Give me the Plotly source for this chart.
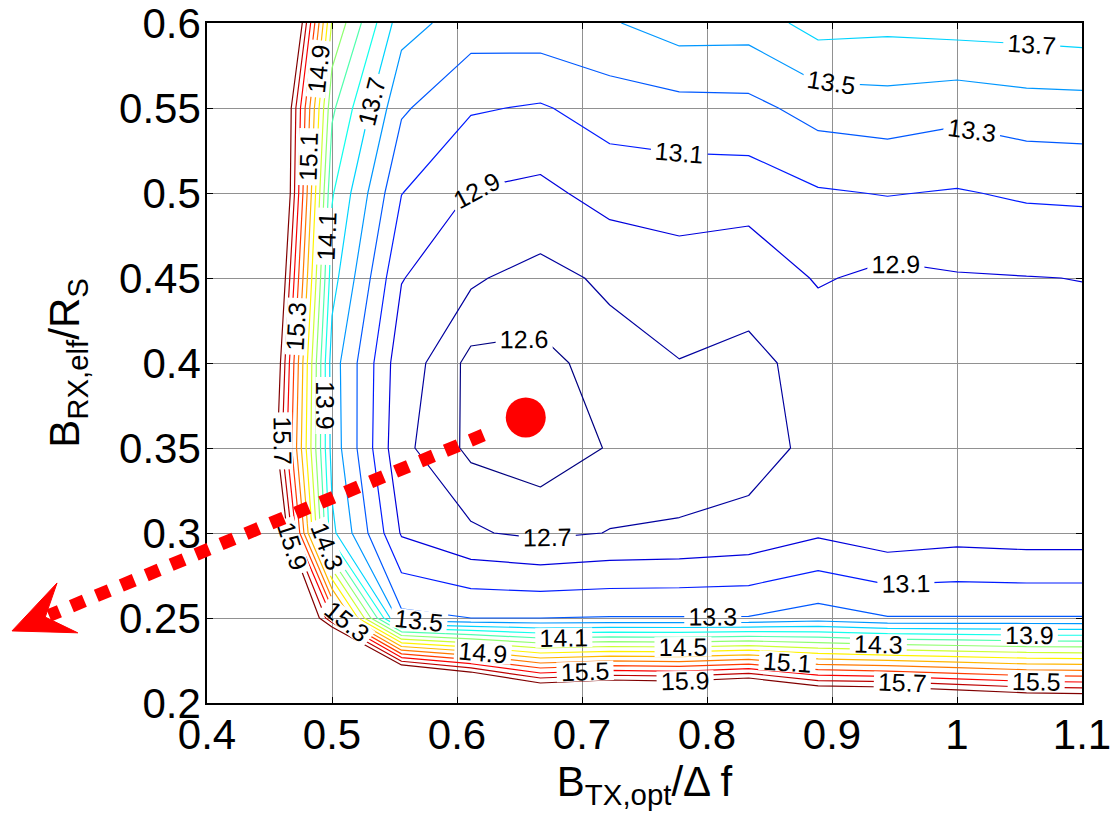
import plotly.graph_objects as go
import numpy as np

# ---------------- data ----------------
# grid columns: B_TX,opt / delta f
X_VALS = [0.4444, 0.5, 0.5556, 0.6111, 0.6667, 0.7222, 0.7778,
          0.8333, 0.8889, 0.9444, 1.0, 1.0556, 1.1111]
# grid rows: B_RX,elf / R_S
Y_VALS = [0.20, 0.25, 0.30, 0.35, 0.40, 0.45, 0.50, 0.55, 0.60]

Z_020 = [21.0, 19.3, 17.97, 17.39, 16.70, 16.86, 16.80, 16.98, 16.53, 16.50, 16.37, 16.25, 16.21]
Z_025 = [17.7, 15.5, 13.35, 13.30, 13.30, 13.31, 13.31, 13.31, 13.39, 13.31, 13.31, 13.31, 13.31]
Z_030 = [17.09, 13.75, 12.88, 12.72, 12.66, 12.705, 12.72, 12.76, 12.87, 12.78, 12.82, 12.80, 12.80]
Z_035 = [16.52, 13.62, 12.73, 12.575, 12.549, 12.606, 12.61, 12.624, 12.75, 12.78, 12.80, 12.80, 12.80]
Z_040 = [16.70, 13.60, 12.77, 12.57, 12.581, 12.627, 12.694, 12.665, 12.75, 12.80, 12.82, 12.83, 12.84]
Z_045 = [16.94, 13.78, 12.91, 12.72, 12.64, 12.734, 12.817, 12.758, 12.92, 12.85, 12.886, 12.895, 12.905]
Z_050 = [17.22, 13.92, 13.105, 12.89, 12.85, 12.976, 12.985, 12.99, 13.08, 13.11, 13.085, 13.128, 13.14]
Z_055 = [17.14, 14.14, 13.33, 13.12, 13.08, 13.19, 13.23, 13.24, 13.38, 13.41, 13.36, 13.41, 13.42]
Z_060 = [17.80, 14.48, 13.58, 13.40, 13.42, 13.48, 13.60, 13.59, 13.78, 13.755, 13.785, 13.795, 13.82]

LEVEL_LOW = 12.6                 # single innermost level
LEVEL_START, LEVEL_END, LEVEL_STEP = 12.7, 15.9, 0.2

OPT_X = [0.655]                  # optimum operating point
OPT_Y = [0.368]
ARROW_TIP = (0.244, 0.2424)      # where the dotted arrow points (data units)

X_TICKS = [0.4, 0.5, 0.6, 0.7, 0.8, 0.9, 1.0, 1.1]
Y_TICKS = [0.2, 0.25, 0.3, 0.35, 0.4, 0.45, 0.5, 0.55, 0.6]
Y_TICKTEXT = ["0.2", "0.25", "0.3", "0.35", "0.4", "0.45", "0.5", "0.55", "0.6"]

# ---------------- styling ----------------
W, H = 1120, 833
ML, MR, MT, MB = 207, 38, 23, 130
XR = (0.4, 1.1)
YR = (0.2, 0.6)
EPS = 1e-9
FONT = "Liberation Sans, Arial, sans-serif"

Z = [Z_020, Z_025, Z_030, Z_035, Z_040, Z_045, Z_050, Z_055, Z_060]


def jet(t):
    t = min(max(t, 0.0), 1.0)
    r = min(max(1.5 - abs(4 * t - 3), 0), 1)
    g = min(max(1.5 - abs(4 * t - 2), 0), 1)
    b = min(max(1.5 - abs(4 * t - 1), 0), 1)
    return "rgb(%d,%d,%d)" % (round(r * 255), round(g * 255), round(b * 255))


CMIN, CMAX = LEVEL_LOW, LEVEL_END
n_lv = int(round((LEVEL_END - LEVEL_START) / LEVEL_STEP)) + 1
cs_main = []
for k in range(n_lv):
    lv = LEVEL_START + k * LEVEL_STEP
    cs_main.append([k / (n_lv - 1), jet((lv - CMIN) / (CMAX - CMIN))])
cs_low = [[0, jet(0)], [1, jet(0)]]

fig = go.Figure()

fig.add_trace(go.Contour(
    x=X_VALS, y=Y_VALS, z=Z, autocontour=False,
    contours=dict(start=LEVEL_START, end=LEVEL_END, size=LEVEL_STEP,
                  coloring="lines", showlabels=True, labelformat=".1f",
                  labelfont=dict(size=25, color="black", family=FONT)),
    colorscale=cs_main, showscale=False, line=dict(width=1.2, smoothing=0),
    hoverinfo="skip"))

fig.add_trace(go.Contour(
    x=X_VALS, y=Y_VALS, z=Z, autocontour=False,
    contours=dict(start=LEVEL_LOW, end=LEVEL_LOW, size=0.1,
                  coloring="lines", showlabels=True, labelformat=".1f",
                  labelfont=dict(size=25, color="black", family=FONT)),
    colorscale=cs_low, showscale=False, line=dict(width=1.2, smoothing=0),
    hoverinfo="skip"))

fig.add_trace(go.Scatter(x=OPT_X, y=OPT_Y, mode="markers",
                         marker=dict(size=40, color="rgb(255,0,0)"),
                         showlegend=False, hoverinfo="skip"))

# ---------------- dotted arrow (pixel geometry -> paper coords) ----------------
PW, PH = W - ML - MR, H - MT - MB


def data_px(x, y):
    return (ML + (x - XR[0]) / (XR[1] - XR[0]) * PW,
            MT + (YR[1] - y) / (YR[1] - YR[0]) * PH)


def px_paper(px, py):
    return ((px - ML) / PW, (MT + PH - py) / PH)


cx, cy = data_px(OPT_X[0], OPT_Y[0])
tx, ty = data_px(*ARROW_TIP)
d = np.array([tx - cx, ty - cy])
u = d / np.linalg.norm(d)
nrm = np.array([-u[1], u[0]])
tip = np.array([tx, ty])
start = np.array([cx, cy]) + 46 * u
end = tip - 40 * u
wing_base = tip - 60 * u
wa = wing_base + 27 * nrm
wb = wing_base - 27 * nrm
notch = tip - 36 * u

sx, sy = px_paper(*start)
ex, ey = px_paper(*end)
fig.add_shape(type="line", xref="paper", yref="paper", x0=sx, y0=sy, x1=ex, y1=ey,
              line=dict(color="rgb(255,0,0)", width=13, dash="14px,13px"))
pts = [px_paper(*tip), px_paper(*wa), px_paper(*notch), px_paper(*wb)]
path = "M %f %f L %f %f L %f %f L %f %f Z" % (pts[0] + pts[1] + pts[2] + pts[3])
fig.add_shape(type="path", xref="paper", yref="paper", path=path,
              fillcolor="rgb(255,0,0)", line=dict(color="rgb(255,0,0)", width=1))

axis_common = dict(showgrid=True, gridcolor="rgb(145,145,145)", gridwidth=1,
                   zeroline=False, showline=True, linecolor="black", linewidth=1.5,
                   mirror="ticks", ticks="inside", ticklen=6, tickcolor="black",
                   ticklabeloverflow="allow",
                   tickfont=dict(size=42, color="black", family=FONT))

fig.update_layout(
    width=W, height=H, margin=dict(l=ML, r=MR, t=MT, b=MB, autoexpand=False),
    paper_bgcolor="white", plot_bgcolor="white", showlegend=False,
    font=dict(family=FONT, color="black"),
    xaxis=dict(range=[XR[0] - EPS, XR[1] + EPS], tickvals=X_TICKS, ticklabelstandoff=-6,
               title=dict(text="B<sub>TX,opt</sub>/\u0394 f", font=dict(size=42), standoff=8),
               **axis_common),
    yaxis=dict(range=[YR[0] - EPS, YR[1] + EPS], tickvals=Y_TICKS, ticktext=Y_TICKTEXT,
               ticklabelstandoff=-4,
               title=dict(text="B<sub>RX,elf</sub>/R<sub>S</sub>", font=dict(size=42), standoff=26),
               **axis_common),
)

fig.write_html("out.html")
